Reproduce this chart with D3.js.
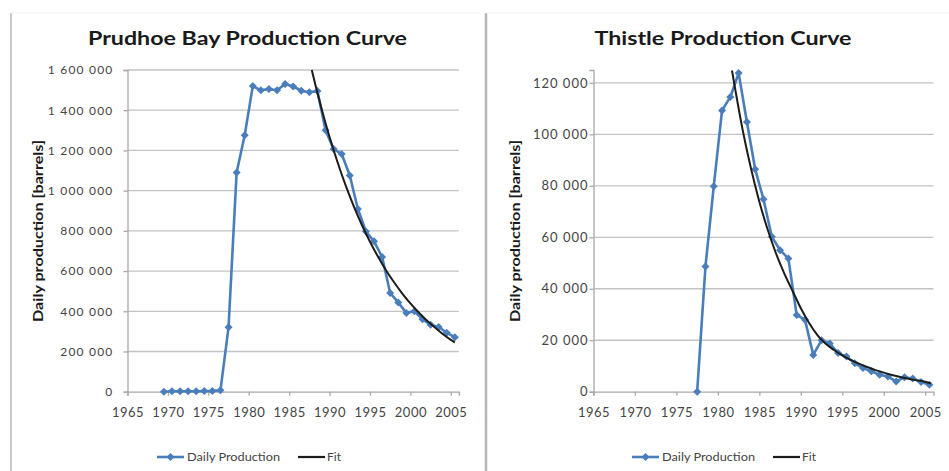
<!DOCTYPE html>
<html>
<head>
<meta charset="utf-8">
<script src="https://cdn.jsdelivr.net/npm/d3@7"></script>
<style>
  html, body { margin: 0; padding: 0; background: #ffffff; }
  svg { display: block; font-family: Lato, "Open Sans", "Liberation Sans", sans-serif; }
</style>
</head>
<body>
<svg id="chart" width="949" height="471"></svg>
<script>
// ---- Prudhoe Bay: yearly average daily production (barrels) ----
const prudhoeYears = [1969, 1970, 1971, 1972, 1973, 1974, 1975, 1976, 1977, 1978,
  1979, 1980, 1981, 1982, 1983, 1984, 1985, 1986, 1987, 1988,
  1989, 1990, 1991, 1992, 1993, 1994, 1995, 1996, 1997, 1998,
  1999, 2000, 2001, 2002, 2003, 2004, 2005];
const prudhoeProduction = [0, 2000, 2000, 2000, 2000, 3000, 4000, 7000, 320000, 1090000,
  1275000, 1520000, 1499000, 1505000, 1499000, 1530000, 1518000, 1497000, 1489000, 1495000,
  1300000, 1207000, 1182000, 1075000, 909000, 797000, 748000, 670000, 491000, 444000,
  392000, 400000, 360000, 333000, 322000, 293000, 271000];
// Decline fit for Prudhoe Bay
const prudhoeFitYears = [1987.8, 1988, 1989, 1990, 1991, 1992, 1993, 1994, 1995, 1996,
  1997, 1998, 1999, 2000, 2001, 2002, 2003, 2004, 2005, 2005.5];
const prudhoeFitValues = [1600000, 1566000, 1409000, 1267000, 1140000, 1025000, 922000, 829000, 746000, 671000,
  603000, 543000, 488000, 439000, 395000, 355000, 320000, 287000, 258000, 245000];

// ---- Thistle: yearly average daily production (barrels) ----
const thistleYears = [1977, 1978, 1979, 1980, 1981, 1982, 1983, 1984, 1985, 1986,
  1987, 1988, 1989, 1990, 1991, 1992, 1993, 1994, 1995, 1996,
  1997, 1998, 1999, 2000, 2001, 2002, 2003, 2004, 2005];
const thistleProduction = [0, 48600, 79800, 109300, 114500, 123800, 104800, 86400, 74800, 60200,
  55000, 51800, 29800, 28000, 14300, 20000, 18700, 15000, 13700, 11100,
  9200, 7900, 6600, 5900, 4000, 5600, 5100, 3800, 2700];
// Decline fit for Thistle
const thistleFitYears = [1981.7, 1983, 1984, 1985, 1986, 1987, 1988, 1989, 1990, 1991,
  1992, 1993, 1994, 1995, 1996, 1997, 1998, 1999, 2000, 2001,
  2002, 2003, 2004, 2005, 2005.7];
const thistleFitValues = [124800, 101500, 86600, 73800, 63000, 53800, 46000, 39200, 32400, 26700,
  22000, 18600, 16200, 14100, 12400, 10900, 9600, 8400, 7400, 6500,
  5700, 5000, 4400, 3850, 3200];

// Axis ticks and labels
const yearTicks = [1965, 1970, 1975, 1980, 1985, 1990, 1995, 2000, 2005];
const prudhoeYTicks = [0, 200000, 400000, 600000, 800000, 1000000, 1200000, 1400000, 1600000];
const thistleYTicks = [0, 20000, 40000, 60000, 80000, 100000, 120000];
const yAxisTitle = "Daily production [barrels]";
const legendLabels = ["Daily Production", "Fit"];

// Yearly averages are plotted at mid-year
const midYear = 0.5;

const BLUE = "#4a7ebb";
const svg = d3.select("#chart");

// Panel frame lines
svg.append("line").attr("x1", 11).attr("x2", 11).attr("y1", 13).attr("y2", 471)
  .attr("stroke", "#c9c9c9").attr("stroke-width", 2);
svg.append("line").attr("x1", 11).attr("x2", 480).attr("y1", 13).attr("y2", 13)
  .attr("stroke", "#f2f2f2").attr("stroke-width", 1);
svg.append("line").attr("x1", 486).attr("x2", 486).attr("y1", 13).attr("y2", 471)
  .attr("stroke", "#b5b5b5").attr("stroke-width", 2.5);
svg.append("line").attr("x1", 486).attr("x2", 949).attr("y1", 13).attr("y2", 13)
  .attr("stroke", "#f2f2f2").attr("stroke-width", 1);

const fmt = v => d3.format(",")(v).replace(/,/g, " ");
const diamond = r => `M0,${-r}L${r},0L0,${r}L${-r},0Z`;

function drawChart(cfg) {
  const g = svg.append("g");
  const x = d3.scaleLinear().domain([1965, 2006]).range([cfg.left, cfg.right]);
  const y = d3.scaleLinear().domain([0, cfg.yMax]).range([391.7, 70]);

  // Title
  g.append("text")
    .attr("x", cfg.titleX).attr("y", 45)
    .attr("text-anchor", "middle")
    .attr("font-size", 19).attr("font-weight", "bold").attr("fill", "#1a1a1a")
    .attr("textLength", cfg.titleWidth).attr("lengthAdjust", "spacingAndGlyphs")
    .text(cfg.title);

  // Horizontal gridlines
  g.append("g").selectAll("line")
    .data(cfg.yTicks.filter(d => d > 0))
    .join("line")
    .attr("x1", cfg.left).attr("x2", cfg.right)
    .attr("y1", d => y(d)).attr("y2", d => y(d))
    .attr("stroke", "#c3c3c3").attr("stroke-width", 1.3);

  // Y axis
  const yAxis = g.append("g")
    .attr("transform", `translate(${cfg.left},0)`)
    .call(d3.axisLeft(y).tickValues(cfg.yTicks).tickSize(4).tickPadding(cfg.yPad).tickFormat(fmt));
  yAxis.select(".domain").attr("stroke", "#a8a8a8").attr("stroke-width", 1.3);
  yAxis.selectAll(".tick line").attr("stroke", "#a8a8a8").attr("stroke-width", 1.3);
  yAxis.selectAll(".tick text")
    .attr("font-family", "Lato, 'Open Sans', sans-serif")
    .attr("font-size", cfg.yFont).attr("letter-spacing", cfg.ySpacing).attr("fill", "#444");

  // X axis
  const xAxis = g.append("g")
    .attr("transform", `translate(0,${y(0)})`)
    .call(d3.axisBottom(x).tickValues(yearTicks).tickSize(4).tickPadding(12).tickFormat(d3.format("d")));
  xAxis.select(".domain").attr("stroke", "#a8a8a8").attr("stroke-width", 1.3);
  xAxis.selectAll(".tick line").attr("stroke", "#a8a8a8").attr("stroke-width", 1.3);
  xAxis.selectAll(".tick text")
    .attr("font-family", "Lato, 'Open Sans', sans-serif")
    .attr("font-size", 13).attr("letter-spacing", 0.5).attr("fill", "#444");

  // Y axis title
  g.append("text")
    .attr("transform", `translate(${cfg.axisTitleX},231) rotate(-90)`)
    .attr("text-anchor", "middle").attr("dy", "0.35em")
    .attr("font-size", 13).attr("font-weight", "bold").attr("fill", "#1a1a1a")
    .attr("textLength", 182).attr("lengthAdjust", "spacingAndGlyphs")
    .text(yAxisTitle);

  // Clip for the fit curve
  const clipId = "clip-" + cfg.key;
  g.append("clipPath").attr("id", clipId)
    .append("rect").attr("x", cfg.left).attr("y", 69).attr("width", cfg.right - cfg.left + 6).attr("height", 335);

  // Production series
  const prod = cfg.years.map((yr, i) => ({ x: yr + midYear, v: cfg.values[i] }));
  const line = d3.line().x(d => x(d.x)).y(d => y(d.v));
  g.append("path")
    .datum(prod)
    .attr("d", line)
    .attr("fill", "none").attr("stroke", BLUE).attr("stroke-width", 2.6)
    .attr("stroke-linejoin", "round");
  g.append("g").selectAll("path")
    .data(prod)
    .join("path")
    .attr("transform", d => `translate(${x(d.x)},${y(d.v)})`)
    .attr("d", diamond(4))
    .attr("fill", BLUE);

  // Fit curve
  const fit = cfg.fitYears.map((yr, i) => ({ x: yr, v: cfg.fitValues[i] }));
  g.append("path")
    .datum(fit)
    .attr("clip-path", `url(#${clipId})`)
    .attr("d", d3.line().x(d => x(d.x)).y(d => y(d.v)).curve(d3.curveMonotoneX))
    .attr("fill", "none").attr("stroke", "#1c1c1c").attr("stroke-width", 2);

  // Legend
  const ly = 457;
  const lg = g.append("g");
  lg.append("line").attr("x1", cfg.legendX).attr("x2", cfg.legendX + 27)
    .attr("y1", ly).attr("y2", ly).attr("stroke", BLUE).attr("stroke-width", 2.6);
  lg.append("path").attr("transform", `translate(${cfg.legendX + 13.5},${ly})`)
    .attr("d", diamond(4)).attr("fill", BLUE);
  lg.append("text").attr("x", cfg.legendX + 30).attr("y", ly).attr("dy", "0.35em")
    .attr("font-size", 12).attr("fill", "#444")
    .attr("textLength", 93).attr("lengthAdjust", "spacingAndGlyphs")
    .text(legendLabels[0]);
  lg.append("line").attr("x1", cfg.legendX + 141).attr("x2", cfg.legendX + 168)
    .attr("y1", ly).attr("y2", ly).attr("stroke", "#1c1c1c").attr("stroke-width", 2.2);
  lg.append("text").attr("x", cfg.legendX + 170).attr("y", ly).attr("dy", "0.35em")
    .attr("font-size", 12).attr("fill", "#444")
    .text(legendLabels[1]);
}

drawChart({
  key: "prudhoe",
  title: "Prudhoe Bay Production Curve", titleX: 247.5, titleWidth: 319,
  left: 127.5, right: 458.9, yMax: 1600000, yTicks: prudhoeYTicks, yPad: 10,
  yFont: 12, ySpacing: 1.2,
  axisTitleX: 38,
  years: prudhoeYears, values: prudhoeProduction,
  fitYears: prudhoeFitYears, fitValues: prudhoeFitValues,
  legendX: 157
});

drawChart({
  key: "thistle",
  title: "Thistle Production Curve", titleX: 723, titleWidth: 257,
  left: 593.5, right: 933.5, yMax: 125000, yTicks: thistleYTicks, yPad: 1,
  yFont: 13, ySpacing: 1,
  axisTitleX: 515,
  years: thistleYears, values: thistleProduction,
  fitYears: thistleFitYears, fitValues: thistleFitValues,
  legendX: 632
});
</script>
</body>
</html>
